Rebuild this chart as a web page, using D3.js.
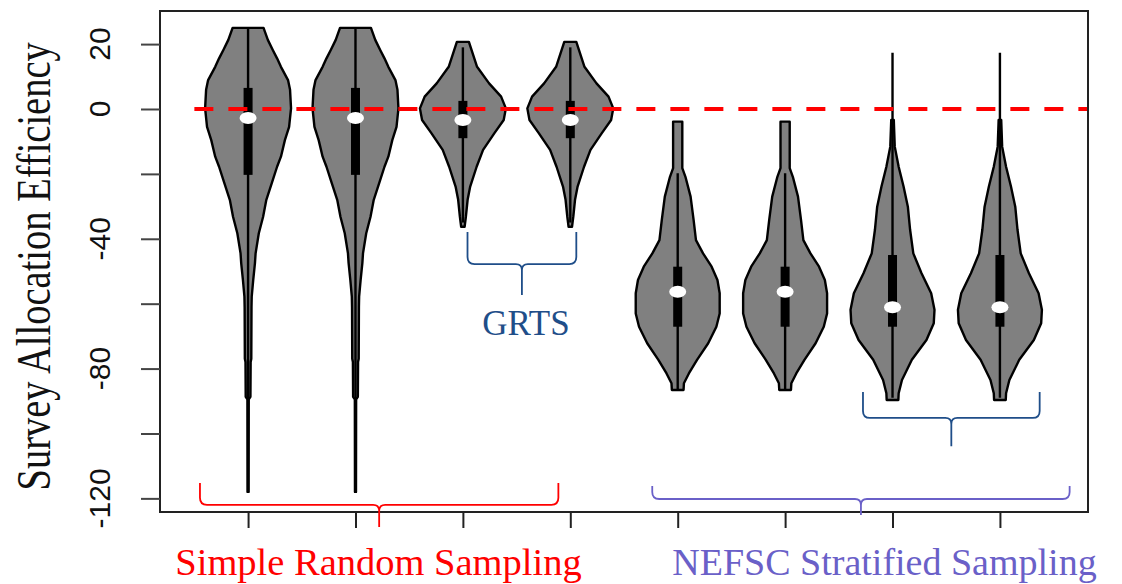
<!DOCTYPE html>
<html>
<head>
<meta charset="utf-8">
<script src="https://cdn.jsdelivr.net/npm/d3@7/dist/d3.min.js"></script>
<style>
  html, body { margin: 0; padding: 0; background: #fff; }
  svg { display: block; }
</style>
</head>
<body>
<div id="chart"></div>
<script>
// --- data -------------------------------------------------------------
// one violin per design/allocation, x position = index + 1
const designs = ['SRS', 'SRS', 'GRTS', 'GRTS', 'NEFSC', 'NEFSC', 'NEFSC', 'NEFSC'];

// density profiles: [efficiency value, relative density (max = 1)]
const densitySRS = [
  [25.0, 0.36], [21.3, 0.46], [18.2, 0.575], [15.6, 0.675], [13.0, 0.765],
  [8.9, 0.93], [5.9, 0.977], [0.2, 1.0], [-5.5, 0.955], [-9.6, 0.857],
  [-14.7, 0.765], [-17.8, 0.675], [-22.9, 0.55], [-28.0, 0.425], [-33.2, 0.35],
  [-38.3, 0.25], [-44.5, 0.175], [-47.5, 0.16], [-52.7, 0.12], [-57.8, 0.085],
  [-61.0, 0.08], [-77.0, 0.075], [-78.0, 0.06], [-88.7, 0.055], [-89.5, 0.015],
  [-118.0, 0.012]
];
const densityGRTS = [
  [20.7, 0.14], [13.0, 0.33], [7.9, 0.61], [3.8, 0.89], [0.2, 1.0],
  [-3.4, 0.95], [-7.5, 0.73], [-12.6, 0.47], [-17.8, 0.32], [-23.9, 0.17],
  [-28.0, 0.11], [-33.2, 0.07], [-36.3, 0.04]
];
const densityNEFSC1 = [
  [-3.9, 0.107], [-18.2, 0.107], [-20.9, 0.18], [-27.0, 0.30], [-34.2, 0.37],
  [-40.4, 0.425], [-44.5, 0.59], [-48.6, 0.79], [-52.7, 0.925], [-56.8, 0.977],
  [-63.0, 0.977], [-67.1, 0.90], [-72.2, 0.71], [-77.3, 0.45], [-81.5, 0.26],
  [-84.5, 0.145], [-86.6, 0.136]
];
const densityNEFSC2 = [
  [-3.4, 0.03], [-11.6, 0.052], [-17.8, 0.143], [-23.9, 0.257], [-30.1, 0.357],
  [-37.3, 0.41], [-44.5, 0.484], [-50.6, 0.675], [-56.8, 0.90], [-61.9, 0.977],
  [-66.0, 0.96], [-71.2, 0.79], [-77.3, 0.45], [-83.5, 0.22], [-87.6, 0.143],
  [-89.7, 0.136]
];
const profiles = [densitySRS, densitySRS, densityGRTS, densityGRTS,
                  densityNEFSC1, densityNEFSC1, densityNEFSC2, densityNEFSC2];

// box plot summaries
const quart1   = [-20.3, -20.3, -9.0, -9.0, -67.1, -67.1, -67.1, -67.1];
const quart3   = [6.5, 6.5, 2.5, 2.5, -48.6, -48.6, -45.0, -45.0];
const medians  = [-2.8, -2.8, -3.4, -3.4, -56.3, -56.3, -61.1, -61.1];
const whiskLo  = [-118, -118, -35, -35, -86.3, -86.3, -89, -89];
const whiskHi  = [25, 25, 19, 19, -19.8, -19.8, 17.3, 17.3];

const yTicks = [20, 0, -20, -40, -60, -80, -100, -120];
const yTickLabels = [20, 0, -40, -80, -120];

// --- layout -------------------------------------------------------------
const width = 1122, height = 584;
const plot = {left: 160, right: 1088, top: 11, bottom: 512};

const svg = d3.select('#chart').append('svg')
    .attr('width', width)
    .attr('height', height)
    .attr('viewBox', `0 0 ${width} ${height}`);

const x = d3.scaleLinear().domain([0.18, 8.82]).range([plot.left, plot.right]);
const y = d3.scaleLinear().domain([-124.2, 30.2]).range([plot.bottom, plot.top]);
// relative density 1 -> half width of 0.4 category units
const w = d3.scaleLinear().domain([0, 1]).range([0, x(0.4) - x(0)]);

// --- violins --------------------------------------------------------------
const violins = svg.append('g').selectAll('g')
    .data(designs.map((d, i) => ({i, pos: i + 1, profile: profiles[i]})))
    .join('g');

violins.append('path')
    .attr('d', d => d3.area()
        .y(p => y(p[0]))
        .x0(p => x(d.pos) - w(p[1]))
        .x1(p => x(d.pos) + w(p[1]))(d.profile))
    .attr('fill', '#808080')
    .attr('stroke', '#000')
    .attr('stroke-width', 2.4)
    .attr('stroke-linejoin', 'round');

violins.append('line')
    .attr('x1', d => x(d.pos)).attr('x2', d => x(d.pos))
    .attr('y1', d => y(whiskHi[d.i])).attr('y2', d => y(whiskLo[d.i]))
    .attr('stroke', '#000')
    .attr('stroke-width', 2.4);

violins.append('rect')
    .attr('x', d => x(d.pos) - 4.5)
    .attr('width', 9)
    .attr('y', d => y(quart3[d.i]))
    .attr('height', d => y(quart1[d.i]) - y(quart3[d.i]))
    .attr('fill', '#000');

violins.append('ellipse')
    .attr('cx', d => x(d.pos))
    .attr('cy', d => y(medians[d.i]))
    .attr('rx', 8.5).attr('ry', 6)
    .attr('fill', '#fff');

// reference line at zero
svg.append('line')
    .attr('x1', x(0.5)).attr('x2', x(8.82))
    .attr('y1', y(0)).attr('y2', y(0))
    .attr('stroke', '#ff0000')
    .attr('stroke-width', 4)
    .attr('stroke-dasharray', '19,15');

// --- axes & frame ---------------------------------------------------------
svg.append('rect')
    .attr('x', plot.left).attr('y', plot.top)
    .attr('width', plot.right - plot.left)
    .attr('height', plot.bottom - plot.top)
    .attr('fill', 'none')
    .attr('stroke', '#222')
    .attr('stroke-width', 2);

const yAxis = svg.append('g')
    .attr('transform', `translate(${plot.left},0)`)
    .call(d3.axisLeft(y).tickValues(yTicks).tickSize(19).tickFormat(''));
yAxis.select('.domain').remove();
yAxis.selectAll('line').attr('stroke', '#444').attr('stroke-width', 2);

svg.append('g').selectAll('text')
    .data(yTickLabels)
    .join('text')
    .attr('transform', d => `translate(110,${y(d)}) rotate(-90)`)
    .attr('text-anchor', 'middle')
    .attr('font-family', '"Liberation Sans", Arial, sans-serif')
    .attr('font-size', 30)
    .attr('fill', '#111')
    .text(d => d);

const xAxis = svg.append('g')
    .attr('transform', `translate(0,${plot.bottom})`)
    .call(d3.axisBottom(x).tickValues(d3.range(1, 9)).tickSize(16).tickFormat(''));
xAxis.select('.domain').remove();
xAxis.selectAll('line').attr('stroke', '#222').attr('stroke-width', 2);

// y axis title
svg.append('text')
    .attr('transform', `translate(50,${y(-48.5)}) rotate(-90) scale(1,1.27)`)
    .attr('text-anchor', 'middle')
    .attr('font-family', '"Liberation Serif", "Times New Roman", serif')
    .attr('font-size', 38.5)
    .attr('fill', '#111')
    .text('Survey Allocation Efficiency');

// --- group annotations ----------------------------------------------------
const brackets = [
  {x0: 0.552, x1: 3.889, top: -115.3, mid: -122.0, tip: -128.8, color: '#ff0000'},
  {x0: 3.043, x1: 4.056, top: -37.9, mid: -47.8, tip: -57.3, color: '#1f4e89'},
  {x0: 4.763, x1: 8.649, top: -116.2, mid: -120.2, tip: -125.1, color: '#6a60c8'},
  {x0: 6.725, x1: 8.370, top: -87.2, mid: -95.2, tip: -103.9, color: '#1f4e89'}
];

function bracePath(b) {
  const xa = x(b.x0), xb = x(b.x1), xc = (xa + xb) / 2;
  const yt = y(b.top), ym = y(b.mid), yp = y(b.tip);
  const r = Math.min(7, (ym - yt) * 0.6), r2 = 6;
  const p = d3.path();
  p.moveTo(xa, yt);
  p.lineTo(xa, ym - r);
  p.quadraticCurveTo(xa, ym, xa + r, ym);
  p.lineTo(xc - r2, ym);
  p.quadraticCurveTo(xc, ym, xc, ym + r2);
  p.lineTo(xc, yp);
  p.moveTo(xb, yt);
  p.lineTo(xb, ym - r);
  p.quadraticCurveTo(xb, ym, xb - r, ym);
  p.lineTo(xc + r2, ym);
  p.quadraticCurveTo(xc, ym, xc, ym + r2);
  return p.toString();
}

svg.append('g').selectAll('path')
    .data(brackets)
    .join('path')
    .attr('d', bracePath)
    .attr('fill', 'none')
    .attr('stroke', d => d.color)
    .attr('stroke-width', 1.8);

const labels = [
  {text: 'Simple Random Sampling', cx: 378.5, by: 575, size: 38.5, color: '#ff0000'},
  {text: 'NEFSC Stratified Sampling', cx: 884.5, by: 575, size: 38, color: '#6a60c8'},
  {text: 'GRTS', cx: 526, by: 335, size: 35, color: '#1f4e89'}
];

svg.append('g').selectAll('text')
    .data(labels)
    .join('text')
    .attr('x', d => d.cx)
    .attr('y', d => d.by)
    .attr('text-anchor', 'middle')
    .attr('font-family', '"Liberation Serif", "Times New Roman", serif')
    .attr('font-size', d => d.size)
    .attr('fill', d => d.color)
    .text(d => d.text);
</script>
</body>
</html>
